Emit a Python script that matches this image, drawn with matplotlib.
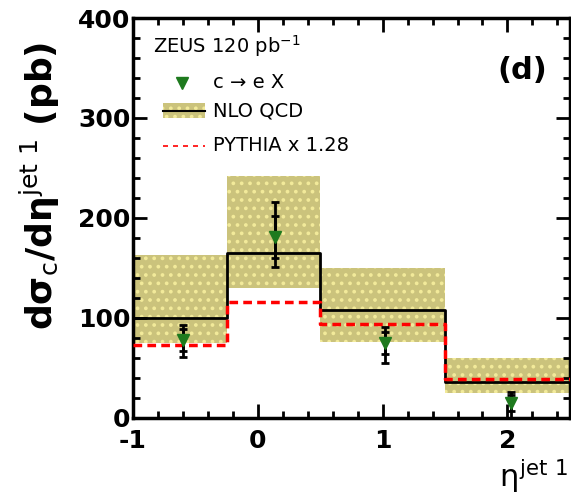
import matplotlib.pyplot as plt
import numpy as np

plt.rcParams['font.family'] = ['DejaVu Sans']
plt.rcParams['axes.unicode_minus'] = False
plt.rcParams['mathtext.fontset'] = 'custom'
plt.rcParams['mathtext.rm'] = 'DejaVu Sans'
plt.rcParams['mathtext.it'] = 'DejaVu Sans'
plt.rcParams['mathtext.bf'] = 'DejaVu Sans:bold'
plt.rcParams['hatch.linewidth'] = 1.5

# bins in eta^jet1
bin_edges = [-1.0, -0.25, 0.5, 1.5, 2.5]
nlo = [100, 165, 108, 36]
nlo_up = [163, 242, 150, 60]
nlo_dn = [75, 130, 76, 25]
pythia = [73, 116, 94, 39]

# ZEUS data c -> e X
data_x = [-0.6, 0.14, 1.02, 2.03]
data_y = [78, 181, 75, 15]
stat_err = [11, 21, 11, 8]
tot_up = [15, 35, 16, 11]
tot_dn = [17, 30, 20, 15]

fig = plt.figure(figsize=(5.71, 5.01), dpi=100)
ax = fig.add_axes([0.233, 0.166, 0.765, 0.798])

band_col = '#cbc37c'
for i in range(len(nlo)):
    x0, x1 = bin_edges[i], bin_edges[i + 1]
    ax.fill_between([x0, x1], nlo_dn[i], nlo_up[i], facecolor=band_col,
                    edgecolor='#f2ea9a', hatch='..', linewidth=0, zorder=1)

# step histograms
xs = np.repeat(bin_edges, 2)[1:-1]
ax.plot(xs, np.repeat(nlo, 2), color='black', lw=2, zorder=3)
ax.plot(xs, np.repeat(pythia, 2), color='red', lw=2.5, ls=(0, (2.5, 1.5)), zorder=4)

# data points with stat (inner) and total errors
ax.errorbar(data_x, data_y, yerr=[tot_dn, tot_up], fmt='none', ecolor='black',
            elinewidth=2, capsize=3, capthick=2, zorder=5)
ax.errorbar(data_x, data_y, yerr=stat_err, fmt='none', ecolor='black',
            elinewidth=2, capsize=3, capthick=2, zorder=5)
ax.plot(data_x, data_y, ls='none', marker='v', ms=9, color='#1e7a1e', zorder=6)

ax.set_xlim(-1, 2.5)
ax.set_ylim(0, 400)
ax.set_xticks([-1, 0, 1, 2])
ax.set_xticks(np.arange(-1, 2.51, 0.2), minor=True)
ax.set_yticks([0, 100, 200, 300, 400])
ax.set_yticks(np.arange(0, 401, 20), minor=True)
ax.tick_params(which='both', direction='in', top=True, right=True, width=2)
ax.tick_params(which='major', length=10, labelsize=18)
ax.tick_params(axis='x', which='major', pad=8)
ax.tick_params(axis='y', which='major', pad=2)
ax.tick_params(which='minor', length=5)
for lab in ax.get_xticklabels() + ax.get_yticklabels():
    lab.set_fontweight('bold')
for sp in ax.spines.values():
    sp.set_linewidth(2.5)

# legend drawn by hand
ax.text(0.045, 0.93, r'ZEUS 120 pb$^{-1}$', transform=ax.transAxes,
        fontsize=14, va='center')
ax.plot([0.112], [0.838], transform=ax.transAxes, marker='v', ms=8,
        color='#1e7a1e', ls='none')
ax.text(0.183, 0.838, 'c → e X', transform=ax.transAxes,
        fontsize=14, va='center')
ax.add_patch(plt.Rectangle((0.068, 0.75), 0.097, 0.037, transform=ax.transAxes,
                           facecolor=band_col, edgecolor='#f2ea9a', hatch='..',
                           linewidth=0))
ax.plot([0.068, 0.165], [0.768, 0.768], transform=ax.transAxes, color='black', lw=1.5)
ax.text(0.183, 0.768, 'NLO QCD', transform=ax.transAxes, fontsize=14, va='center')
ax.plot([0.068, 0.165], [0.68, 0.68], transform=ax.transAxes, color='red', lw=1.2,
        ls=(0, (3, 3)))
ax.text(0.183, 0.68, 'PYTHIA x 1.28', transform=ax.transAxes, fontsize=14,
        va='center')

ax.text(0.835, 0.87, '(d)', transform=ax.transAxes, fontsize=22,
        fontweight='bold', va='center')

fig.text(0.07, 0.63, r'dσ$_c$/dη$^{jet\ 1}$ (pb)',
         rotation=90, ha='center', va='center', fontsize=26, fontweight='bold')
fig.text(0.995, 0.05, r'$\eta^{jet\ 1}$', ha='right', va='center',
         fontsize=22)

fig.savefig('out.png', dpi=100)
